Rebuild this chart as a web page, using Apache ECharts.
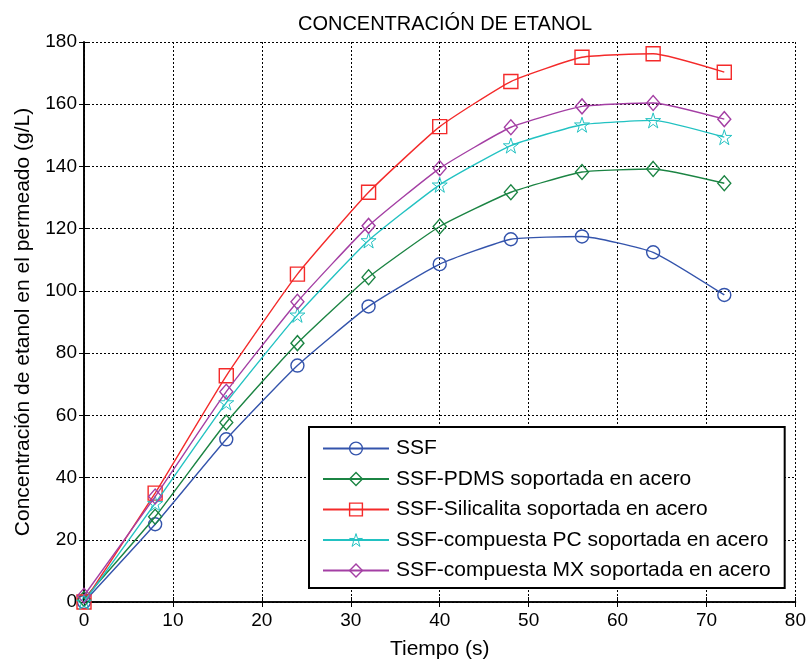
<!DOCTYPE html>
<html>
<head>
<meta charset="utf-8">
<script src="https://cdn.jsdelivr.net/npm/echarts@6/dist/echarts.min.js"></script>
<style>
  html, body { margin: 0; padding: 0; background: #fff; }
  #chart { width: 809px; height: 666px; }
</style>
</head>
<body>
<div id="chart"></div>
<script>
// Sampling times (h) and ethanol concentration in the permeate (g/L)
const tiempo = [0, 8, 16, 24, 32, 40, 48, 56, 64, 72];
const ssf        = [0, 25, 52.3, 76, 95, 108.6, 116.6, 117.5, 112.4, 98.7];
const ssfPdms    = [1, 27.4, 57.7, 83.2, 104.4, 120.7, 131.7, 138.2, 139.2, 134.6];
const ssfSilica  = [0, 35, 72.7, 105.4, 131.7, 152.8, 167.3, 175.1, 176.2, 170.3];
const ssfPc      = [0, 31.7, 64.1, 92.3, 116.2, 134.1, 146.7, 153.4, 154.8, 149.4];
const ssfMx      = [2, 33.9, 67.6, 96.5, 120.9, 139.4, 152.6, 159.3, 160.4, 155.2];

const seriesNames = [
  'SSF',
  'SSF-PDMS soportada en acero',
  'SSF-Silicalita soportada en acero',
  'SSF-compuesta PC soportada en acero',
  'SSF-compuesta MX soportada en acero'
];
const xTicks = { min: 0, max: 80, interval: 10 };
const yTicks = { min: 0, max: 180, interval: 20 };

const colors = ['#3454AC', '#1B8443', '#F42A2A', '#22C2C2', '#A43FA4'];
const starPath = 'path://M50,0 L61.8,36.2 L100,36.2 L69.1,58.8 L80.9,95.1 L50,72.7 L19.1,95.1 L30.9,58.8 L0,36.2 L38.2,36.2 Z';
const symbols = ['circle', 'diamond', 'rect', starPath, 'diamond'];
const sizes = [13, [13, 15], 14, 15, [13, 15]];
const borders = [1.4, 1.4, 1.4, 1.0, 1.4];
const values = [ssf, ssfPdms, ssfSilica, ssfPc, ssfMx];

const font = 'Liberation Sans, Arial, Helvetica, sans-serif';

const markerStyle = i => ({ color: 'rgba(255,255,255,0)', borderColor: colors[i], borderWidth: borders[i] });

const series = values.map((vals, i) => ({
  name: seriesNames[i],
  type: 'line',
  data: tiempo.map((t, k) => [t, vals[k]]),
  symbol: symbols[i],
  symbolSize: sizes[i],
  smooth: 0.15,
  clip: false,
  z: 3 + i,
  lineStyle: { color: colors[i], width: 1.4 },
  itemStyle: markerStyle(i),
  emphasis: { disabled: true }
}));

const dotted = { show: true, lineStyle: { color: '#000', type: [2, 2], width: 1 } };
const axisLine = { show: true, lineStyle: { color: '#000', width: 1.6 } };
const tick = { show: true, inside: true, length: 5, lineStyle: { color: '#000', width: 1 } };

const chart = echarts.init(document.getElementById('chart'), null, { renderer: 'canvas' });
chart.setOption({
  animation: false,
  backgroundColor: '#fff',
  title: {
    text: 'CONCENTRACIÓN DE ETANOL',
    left: 440, top: 9, textAlign: 'center',
    textStyle: { fontFamily: font, fontSize: 20, fontWeight: 'normal', color: '#000' }
  },
  grid: { left: 84, top: 42, right: 13, bottom: 64, containLabel: false },
  legend: {
    orient: 'vertical',
    left: 309, top: 427,
    data: seriesNames.map((name, i) => ({ name, itemStyle: markerStyle(i) })),
    backgroundColor: '#fff',
    borderColor: '#000', borderWidth: 2,
    padding: [11, 14, 7, 13],
    itemWidth: 66, itemHeight: 16, itemGap: 9.5,
    textStyle: { fontFamily: font, fontSize: 21, color: '#000', padding: [0, 0, 0, 2] },
    selectedMode: false
  },
  xAxis: [{
    type: 'value', ...xTicks,
    position: 'bottom',
    name: 'Tiempo (s)', nameLocation: 'middle', nameGap: 37,
    nameTextStyle: { fontFamily: font, fontSize: 21, color: '#000' },
    axisLine, axisTick: tick,
    axisLabel: { fontFamily: font, fontSize: 19, color: '#000', margin: 9 },
    splitLine: dotted
  }, {
    type: 'value', ...xTicks, position: 'top',
    axisLine, axisTick: tick, axisLabel: { show: false }, splitLine: { show: false }
  }],
  yAxis: [{
    type: 'value', ...yTicks,
    position: 'left',
    name: 'Concentración de etanol en el permeado (g/L)', nameLocation: 'middle', nameGap: 50,
    nameTextStyle: { fontFamily: font, fontSize: 21, color: '#000' },
    axisLine, axisTick: tick,
    axisLabel: { fontFamily: font, fontSize: 19, color: '#000', margin: 7 },
    splitLine: dotted
  }, {
    type: 'value', ...yTicks, position: 'right',
    axisLine, axisTick: tick, axisLabel: { show: false }, splitLine: { show: false }
  }],
  series
});
</script>
</body>
</html>
